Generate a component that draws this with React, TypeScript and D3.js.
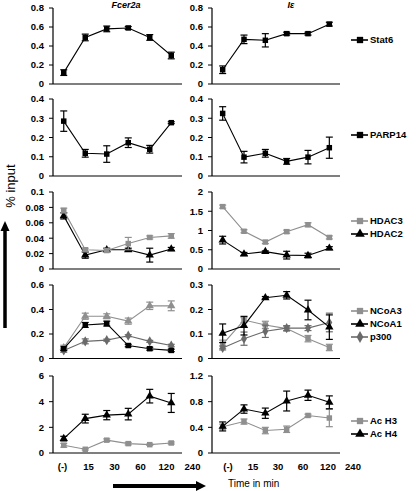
import React from "react";
import * as d3 from "d3";

const timeLabels = ["(-)", "15", "30", "60", "120", "240"];

const stat6Fcer = [0.12, 0.49, 0.58, 0.59, 0.49, 0.3];
const stat6FcerErr = [0.03, 0.035, 0.03, 0.015, 0.03, 0.035];
const stat6Ie = [0.15, 0.47, 0.46, 0.53, 0.53, 0.63];
const stat6IeErr = [0.04, 0.045, 0.07, 0.015, 0.015, 0.02];

const parp14Fcer = [0.285, 0.118, 0.114, 0.173, 0.139, 0.277];
const parp14FcerErr = [0.053, 0.02, 0.043, 0.025, 0.02, 0.005];
const parp14Ie = [0.325, 0.098, 0.118, 0.076, 0.098, 0.147];
const parp14IeErr = [0.035, 0.03, 0.02, 0.015, 0.035, 0.055];

const hdac3Fcer = [0.076, 0.025, 0.024, 0.033, 0.041, 0.043];
const hdac3FcerErr = [0.003, 0.002, 0.002, 0.008, 0.002, 0.003];
const hdac2Fcer = [0.069, 0.018, 0.025, 0.025, 0.018, 0.026];
const hdac2FcerErr = [0.004, 0.004, 0.002, 0.002, 0.009, 0.002];
const hdac3Ie = [1.62, 0.98, 0.7, 0.97, 1.15, 0.82];
const hdac3IeErr = [0.04, 0.04, 0.04, 0.04, 0.05, 0.04];
const hdac2Ie = [0.75, 0.39, 0.45, 0.36, 0.35, 0.54];
const hdac2IeErr = [0.1, 0.04, 0.02, 0.1, 0.06, 0.04];

const ncoa3Fcer = [0.088, 0.345, 0.345, 0.305, 0.43, 0.43];
const ncoa3FcerErr = [0.02, 0.025, 0.02, 0.025, 0.03, 0.04];
const ncoa1Fcer = [0.08, 0.274, 0.285, 0.106, 0.08, 0.066];
const ncoa1FcerErr = [0.015, 0.02, 0.02, 0.01, 0.012, 0.01];
const p300Fcer = [0.066, 0.14, 0.15, 0.186, 0.14, 0.106];
const p300FcerErr = [0.015, 0.02, 0.008, 0.008, 0.008, 0.01];
const ncoa3Ie = [0.058, 0.157, 0.137, 0.122, 0.081, 0.045];
const ncoa3IeErr = [0.017, 0.01, 0.015, 0.01, 0.013, 0.013];
const ncoa1Ie = [0.103, 0.134, 0.248, 0.258, 0.198, 0.128];
const ncoa1IeErr = [0.038, 0.038, 0.005, 0.015, 0.04, 0.05];
const p300Ie = [0.043, 0.081, 0.111, 0.124, 0.124, 0.147];
const p300IeErr = [0.008, 0.027, 0.025, 0.01, 0.01, 0.038];

const acH3Fcer = [0.6, 0.29, 1.0, 0.73, 0.65, 0.78];
const acH3FcerErr = [0.15, 0.06, 0.1, 0.1, 0.05, 0.08];
const acH4Fcer = [1.12, 2.68, 2.95, 3.03, 4.43, 3.9];
const acH4FcerErr = [0.18, 0.34, 0.36, 0.45, 0.53, 0.74];
const acH3Ie = [0.41, 0.49, 0.35, 0.37, 0.585, 0.545];
const acH3IeErr = [0.04, 0.04, 0.05, 0.05, 0.02, 0.135];
const acH4Ie = [0.414, 0.685, 0.62, 0.81, 0.9, 0.79];
const acH4IeErr = [0.07, 0.065, 0.08, 0.155, 0.08, 0.1];

const ticksStat6 = [0, 0.2, 0.4, 0.6, 0.8];
const ticksParp = [0, 0.1, 0.2, 0.3, 0.4];
const ticksHdacL = [0, 0.02, 0.04, 0.06, 0.08, 0.1];
const ticksHdacR = [0, 0.5, 1, 1.5, 2];
const ticksNcoaL = [0, 0.2, 0.4, 0.6];
const ticksNcoaR = [0, 0.1, 0.2, 0.3];
const ticksAcL = [0, 2, 4, 6];
const ticksAcR = [0, 0.4, 0.8, 1.2];

const BLACK = "#000";
const GRAY = "#8f8f8f";
const DGRAY = "#6a6a6a";
const FONT = "'Liberation Sans', Arial, sans-serif";

const rowsY = [
  [8, 84],
  [99, 176],
  [192, 269],
  [285, 358.5],
  [376, 453],
];
const colsX = [
  [53, 182],
  [212, 340],
];

type Series = { v: number[]; e: number[]; color: string; shape: string };

const panels: { row: number; col: number; ticks: number[]; series: Series[] }[] = [
  { row: 0, col: 0, ticks: ticksStat6, series: [{ v: stat6Fcer, e: stat6FcerErr, color: BLACK, shape: "square" }] },
  { row: 0, col: 1, ticks: ticksStat6, series: [{ v: stat6Ie, e: stat6IeErr, color: BLACK, shape: "square" }] },
  { row: 1, col: 0, ticks: ticksParp, series: [{ v: parp14Fcer, e: parp14FcerErr, color: BLACK, shape: "square" }] },
  { row: 1, col: 1, ticks: ticksParp, series: [{ v: parp14Ie, e: parp14IeErr, color: BLACK, shape: "square" }] },
  {
    row: 2, col: 0, ticks: ticksHdacL, series: [
      { v: hdac2Fcer, e: hdac2FcerErr, color: BLACK, shape: "triangle" },
      { v: hdac3Fcer, e: hdac3FcerErr, color: GRAY, shape: "square" },
    ],
  },
  {
    row: 2, col: 1, ticks: ticksHdacR, series: [
      { v: hdac3Ie, e: hdac3IeErr, color: GRAY, shape: "square" },
      { v: hdac2Ie, e: hdac2IeErr, color: BLACK, shape: "triangle" },
    ],
  },
  {
    row: 3, col: 0, ticks: ticksNcoaL, series: [
      { v: p300Fcer, e: p300FcerErr, color: DGRAY, shape: "diamond" },
      { v: ncoa3Fcer, e: ncoa3FcerErr, color: GRAY, shape: "triangle" },
      { v: ncoa1Fcer, e: ncoa1FcerErr, color: BLACK, shape: "square" },
    ],
  },
  {
    row: 3, col: 1, ticks: ticksNcoaR, series: [
      { v: ncoa3Ie, e: ncoa3IeErr, color: GRAY, shape: "square" },
      { v: p300Ie, e: p300IeErr, color: DGRAY, shape: "diamond" },
      { v: ncoa1Ie, e: ncoa1IeErr, color: BLACK, shape: "triangle" },
    ],
  },
  {
    row: 4, col: 0, ticks: ticksAcL, series: [
      { v: acH3Fcer, e: acH3FcerErr, color: GRAY, shape: "square" },
      { v: acH4Fcer, e: acH4FcerErr, color: BLACK, shape: "triangle" },
    ],
  },
  {
    row: 4, col: 1, ticks: ticksAcR, series: [
      { v: acH3Ie, e: acH3IeErr, color: GRAY, shape: "square" },
      { v: acH4Ie, e: acH4IeErr, color: BLACK, shape: "triangle" },
    ],
  },
];

const legendNames = [
  ["Stat6"],
  ["PARP14"],
  ["HDAC3", "HDAC2"],
  ["NCoA3", "NCoA1", "p300"],
  ["Ac H3", "Ac H4"],
];
const legendStyles = [
  [[BLACK, "square"]],
  [[BLACK, "square"]],
  [[GRAY, "square"], [BLACK, "triangle"]],
  [[GRAY, "square"], [BLACK, "triangle"], [DGRAY, "diamond"]],
  [[GRAY, "square"], [BLACK, "triangle"]],
];
const legendY = [
  [40],
  [135],
  [221, 234],
  [311, 324, 337],
  [421, 434],
];

const symType = (shape: string) =>
  shape === "square" ? d3.symbolSquare : shape === "triangle" ? d3.symbolTriangle : d3.symbolDiamond;
const symPath = (shape: string, size: number) => d3.symbol().type(symType(shape)).size(size)() as string;

const fmt = (v: number) => String(+v.toFixed(3));

function Panel({ row, col, ticks, series }: { row: number; col: number; ticks: number[]; series: Series[] }) {
  const [x0, x1] = colsX[col];
  const [yTop, yBot] = rowsY[row];
  const x = d3.scaleBand<string>().domain(timeLabels).range([x0, x1]);
  const cx = (i: number) => (x(timeLabels[i]) as number) + x.bandwidth() / 2;
  const y = d3.scaleLinear().domain([0, ticks[ticks.length - 1]]).range([yBot, yTop]);
  const line = d3.line<number>().x((_, i) => cx(i)).y((d) => y(d));
  return (
    <g>
      <line x1={x0} x2={x0} y1={yTop} y2={yBot} stroke="#000" strokeWidth={1.2} />
      <line x1={x0} x2={x1} y1={yBot} y2={yBot} stroke="#000" strokeWidth={1.2} />
      {ticks.map((t) => (
        <g key={t}>
          <line x1={x0 - 4} x2={x0} y1={y(t)} y2={y(t)} stroke="#000" strokeWidth={1} />
          <text x={x0 - 9} y={y(t)} dy="0.35em" textAnchor="end" fontFamily={FONT} fontWeight="bold" fontSize={9.5}>
            {fmt(t)}
          </text>
        </g>
      ))}
      {series.map((s, si) => (
        <g key={si}>
          <path d={line(s.v) as string} fill="none" stroke={s.color} strokeWidth={1.1} />
          {s.v.map((v, i) => (
            <g key={i} stroke={s.color} strokeWidth={1.2}>
              <line x1={cx(i)} x2={cx(i)} y1={y(v - s.e[i])} y2={y(v + s.e[i])} />
              <line x1={cx(i) - 3.5} x2={cx(i) + 3.5} y1={y(v - s.e[i])} y2={y(v - s.e[i])} />
              <line x1={cx(i) - 3.5} x2={cx(i) + 3.5} y1={y(v + s.e[i])} y2={y(v + s.e[i])} />
            </g>
          ))}
          {s.v.map((v, i) => (
            <path key={i} d={symPath(s.shape, 30)} transform={`translate(${cx(i)},${y(v)})`} fill={s.color} />
          ))}
        </g>
      ))}
    </g>
  );
}

export default function App() {
  const labL = d3.scalePoint<string>().domain(timeLabels).range([62.5, 192.5]);
  const labR = d3.scalePoint<string>().domain(timeLabels).range([228, 353]);
  return (
    <svg width={416} height={491} style={{ position: "absolute", left: 0, top: 0, background: "#fff" }}>
      <rect width={416} height={491} fill="#fff" />
      <text x={126} y={8} textAnchor="middle" fontFamily={FONT} fontWeight="bold" fontStyle="italic" fontSize={9}>
        Fcer2a
      </text>
      <text x={291} y={8} textAnchor="middle" fontFamily={FONT} fontWeight="bold" fontStyle="italic" fontSize={9}>
        Iε
      </text>
      {panels.map((p, i) => (
        <Panel key={i} {...p} />
      ))}
      {legendNames.map((names, r) =>
        names.map((n, k) => {
          const [color, shape] = legendStyles[r][k];
          const ly = legendY[r][k];
          return (
            <g key={`${r}-${k}`}>
              <line x1={351} x2={368} y1={ly} y2={ly} stroke={color} strokeWidth={1.6} />
              <path d={symPath(shape, 40)} transform={`translate(360,${ly})`} fill={color} />
              <text x={370} y={ly} dy="0.35em" fontFamily={FONT} fontWeight="bold" fontSize={9.5}>
                {n}
              </text>
            </g>
          );
        })
      )}
      {timeLabels.map((t) => (
        <text key={"l" + t} x={labL(t)} y={470} textAnchor="middle" fontFamily={FONT} fontWeight="bold" fontSize={9.5}>
          {t}
        </text>
      ))}
      {timeLabels.map((t) => (
        <text key={"r" + t} x={labR(t)} y={470} textAnchor="middle" fontFamily={FONT} fontWeight="bold" fontSize={9.5}>
          {t}
        </text>
      ))}
      <text transform="translate(15,186) rotate(-90)" textAnchor="middle" fontFamily={FONT} fontSize={13}>
        % input
      </text>
      <rect x={3.25} y={229} width={3.5} height={99} fill="#000" />
      <path d="M5,221 L0.5,231 L9.5,231 Z" fill="#000" />
      <rect x={113} y={484} width={84} height={4} fill="#000" />
      <path d="M206,486 L196,481 L196,491 Z" fill="#000" />
      <text x={228} y={487} fontFamily={FONT} fontSize={10}>
        Time in min
      </text>
    </svg>
  );
}
